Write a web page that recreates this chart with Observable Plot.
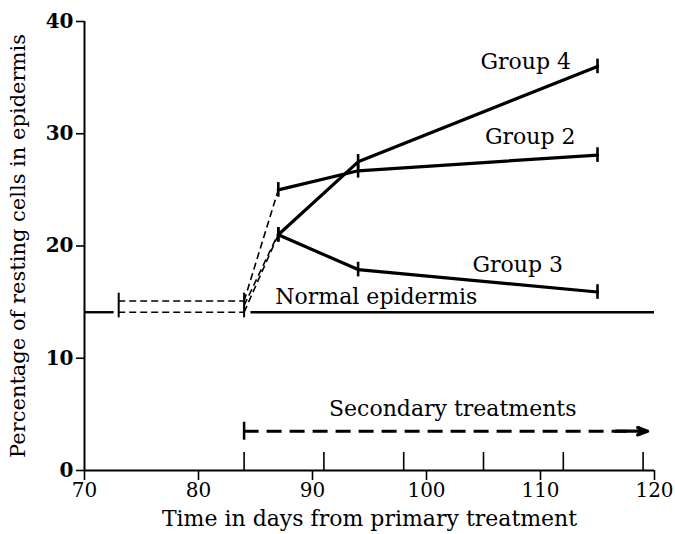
<!DOCTYPE html>
<html>
<head>
<meta charset="utf-8">
<script src="https://cdn.jsdelivr.net/npm/d3@7"></script>
<script src="https://cdn.jsdelivr.net/npm/@observablehq/plot@0.6"></script>
<style>
  html, body { margin: 0; padding: 0; background: #fff; }
  #chart svg { display: block; }
</style>
</head>
<body>
<div id="chart"></div>
<script>
// ---- data ----
const days = [87, 94, 115];
const group2 = [25.0, 26.7, 28.1];
const group3 = [21.0, 17.9, 15.9];
const group4 = [21.0, 27.5, 36.0];
const errHalf = 0.65;

const normalValue = 14.1;
const normalLeft = [70, 72.6];
const normalRight = [84.6, 120];
const preDays = [73, 84];
const preUpper = 15.1;
const preLower = 14.1;
const preErr = [13.6, 15.8];

// dashed links from day 84 to the first group points (day 87)
const links = [
  {from: 15.1, to: 25.0},
  {from: 14.7, to: 21.1},
  {from: 14.1, to: 21.0}
];

const secondaryStart = 84;
const secondaryDashEnd = 117.6;
const secondaryEnd = 119.4;
const secondaryLevel = 3.5;
const weeklyTicks = [84, 91, 98, 105, 112, 119];
const xTicks = [70, 80, 90, 100, 110, 120];
const yTicks = [0, 10, 20, 30, 40];

const labels = [
  {text: "Group 4", x: 108.7, y: 36.4},
  {text: "Group 2", x: 109.1, y: 29.7},
  {text: "Group 3", x: 108.0, y: 18.3},
  {text: "Normal epidermis", x: 95.6, y: 15.5},
  {text: "Secondary treatments", x: 102.3, y: 5.5}
];

// ---- build tables ----
const series = [
  {name: "Group 2", vals: group2},
  {name: "Group 3", vals: group3},
  {name: "Group 4", vals: group4}
];
const pts = series.flatMap(s => days.map((d, i) => ({group: s.name, x: d, y: s.vals[i]})));
const linkSegs = links.map(l => ({x1: preDays[1], y1: l.from, x2: days[0], y2: l.to}));
const normalSegs = [
  {x1: normalLeft[0], x2: normalLeft[1], y: normalValue},
  {x1: normalRight[0], x2: normalRight[1], y: normalValue}
];
const preSegs = [
  {x1: preDays[0], x2: preDays[1], y: preUpper},
  {x1: preDays[0], x2: preDays[1], y: preLower}
];

const serif = "'DejaVu Serif', 'Liberation Serif', serif";

const chart = Plot.plot({
  width: 675,
  height: 534,
  marginLeft: 84,
  marginRight: 21,
  marginTop: 21,
  marginBottom: 64,
  style: {fontFamily: serif, background: "#fff", color: "#000"},
  x: {domain: [70, 120]},
  y: {domain: [0, 40]},
  marks: [
    // axes
    Plot.axisY({ticks: yTicks, tickSize: 8, tickPadding: 3, fontSize: 20, label: null, fontWeight: "bold", strokeWidth: 1.6}),
    Plot.axisX({ticks: xTicks, tickSize: 10, tickPadding: 2, fontSize: 20, label: null, strokeWidth: 1.6}),
    Plot.ruleX([70], {y1: 0, y2: 40, stroke: "#000", strokeWidth: 2}),
    Plot.ruleY([0], {x1: 70, x2: 120, stroke: "#000", strokeWidth: 2}),
    Plot.ruleX(weeklyTicks, {y1: 0, y2: 1.6, stroke: "#000", strokeWidth: 1.6}),
    // normal epidermis
    Plot.ruleY(normalSegs, {x1: "x1", x2: "x2", y: "y", stroke: "#000", strokeWidth: 2.4}),
    // pre-treatment dashed
    Plot.ruleY(preSegs, {x1: "x1", x2: "x2", y: "y", stroke: "#000", strokeWidth: 1.6, strokeDasharray: "7,4"}),
    Plot.ruleX(preDays, {y1: preErr[0], y2: preErr[1], stroke: "#000", strokeWidth: 2}),
    // dashed links
    Plot.link(linkSegs, {x1: "x1", y1: "y1", x2: "x2", y2: "y2", stroke: "#000", strokeWidth: 1.6, strokeDasharray: "7,4"}),
    // group lines
    Plot.line(pts, {x: "x", y: "y", z: "group", stroke: "#000", strokeWidth: 3.2}),
    Plot.ruleX(pts, {x: "x", y1: d => d.y - errHalf, y2: d => d.y + errHalf, stroke: "#000", strokeWidth: 2.6}),
    // secondary treatments arrow
    Plot.ruleY([secondaryLevel], {x1: secondaryStart, x2: secondaryDashEnd, stroke: "#000", strokeWidth: 3, strokeDasharray: "15,8"}),
    Plot.arrow([{x1: secondaryDashEnd - 1, x2: secondaryEnd, y: secondaryLevel}], {
      x1: "x1", x2: "x2", y1: "y", y2: "y", stroke: "#000", strokeWidth: 3.2,
      headLength: 16, headAngle: 40, bend: 0
    }),
    Plot.dot([{x: secondaryEnd, y: secondaryLevel}], {x: "x", y: "y", symbol: "triangle2", r: 5, rotate: 90, dx: -6, fill: "#000", stroke: "none"}),
    Plot.ruleX([secondaryStart], {y1: secondaryLevel - 0.8, y2: secondaryLevel + 0.8, stroke: "#000", strokeWidth: 2.5}),
    // labels
    Plot.text(labels, {x: "x", y: "y", text: "text", fontSize: 22, fill: "#000", textAnchor: "middle"}),
    // axis titles
    Plot.text(["Time in days from primary treatment"], {frameAnchor: "bottom", dy: 55, fontSize: 22, fill: "#000"}),
    Plot.text(["Percentage of resting cells in epidermis"], {frameAnchor: "left", textAnchor: "middle", dx: -66, rotate: -90, fontSize: 21, fill: "#000"})
  ]
});
document.getElementById("chart").appendChild(chart);
</script>
</body>
</html>
